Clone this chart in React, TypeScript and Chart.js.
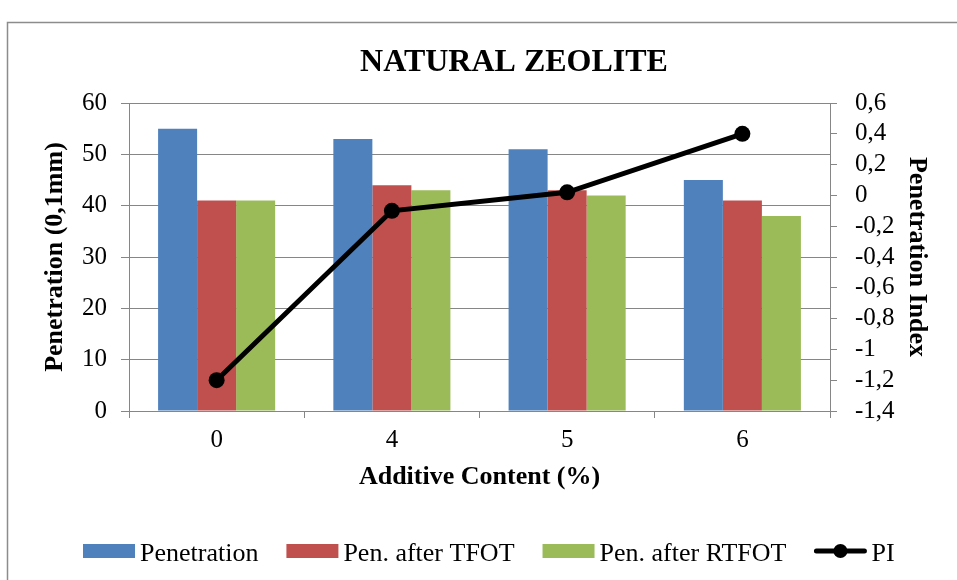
import React, { useEffect, useRef } from "react";
import { Chart, registerables } from "chart.js";

Chart.register(...registerables);

// ---- data ----
const categories = ["0", "4", "5", "6"];
const penetration = [55, 53, 51, 45];
const penAfterTFOT = [41, 44, 43, 41];
const penAfterRTFOT = [41, 43, 42, 38];
const piValues = [-1.2, -0.1, 0.02, 0.4];
const seriesLabels = ["Penetration", "Pen. after TFOT", "Pen. after RTFOT", "PI"];
const leftAxisRange = [0, 60, 10];
const rightAxisRange = [-1.4, 0.6, 0.2];
const chartTitle = "NATURAL ZEOLITE";
const xTitle = "Additive Content (%)";
const yTitle = "Penetration (0,1mm)";
const y1Title = "Penetration Index";

// ---- styles ----
const FONT = '"Liberation Serif", "Times New Roman", serif';
const GRID = "#868686";
const COLORS = ["#4F81BD", "#C0504D", "#9BBB59", "#000000"];

const decorPlugin = {
  id: "decor",
  beforeDraw(chart: any) {
    const ctx = chart.ctx;
    ctx.save();
    ctx.fillStyle = "#ffffff";
    ctx.fillRect(0, 0, chart.width, chart.height);
    ctx.strokeStyle = "#8c8c8c";
    ctx.lineWidth = 1.5;
    ctx.beginPath();
    ctx.moveTo(7.5, chart.height);
    ctx.lineTo(7.5, 22.5);
    ctx.lineTo(chart.width, 22.5);
    ctx.stroke();
    ctx.restore();
  },
  afterDraw(chart: any) {
    const ctx = chart.ctx;
    ctx.save();
    // title
    ctx.fillStyle = "#000";
    ctx.font = `bold 32px ${FONT}`;
    ctx.textAlign = "center";
    ctx.textBaseline = "alphabetic";
    ctx.fillText(chartTitle, 514, 71);

    // legend
    ctx.font = `26px ${FONT}`;
    ctx.textAlign = "left";
    let x = 83;
    const baseline = 561;
    const boxTop = 544;
    chart.data.datasets.slice().sort((a: any, b: any) => a.legendIndex - b.legendIndex).forEach((ds: any) => {
      if (ds.type === "line") {
        ctx.strokeStyle = ds.borderColor;
        ctx.lineWidth = 5;
        ctx.lineCap = "round";
        ctx.beginPath();
        ctx.moveTo(x + 2, 551);
        ctx.lineTo(x + 50, 551);
        ctx.stroke();
        ctx.fillStyle = ds.borderColor;
        ctx.beginPath();
        ctx.arc(x + 26, 551, 7, 0, Math.PI * 2);
        ctx.fill();
      } else {
        ctx.fillStyle = ds.backgroundColor;
        ctx.fillRect(x, boxTop, 52, 14);
      }
      x += 52 + 5;
      ctx.fillStyle = "#000";
      ctx.fillText(ds.label, x, baseline);
      x += ctx.measureText(ds.label).width + 28;
    });
    ctx.restore();
  },
};

export default function App() {
  const canvasRef = useRef<HTMLCanvasElement | null>(null);

  useEffect(() => {
    const canvas = canvasRef.current;
    if (!canvas) return;
    const tickFont = { family: FONT, size: 25 };
    const titleFont = { family: FONT, size: 26, weight: "bold" as const };

    const chart = new Chart(canvas, {
      type: "bar",
      data: {
        labels: categories,
        datasets: [
          {
            type: "line" as const,
            label: seriesLabels[3],
            data: piValues,
            yAxisID: "y1",
            borderColor: COLORS[3],
            backgroundColor: COLORS[3],
            borderWidth: 5,
            pointRadius: 8,
            pointBackgroundColor: COLORS[3],
            pointBorderWidth: 0,
            tension: 0,
            order: 0,
            legendIndex: 3,
          } as any,
          {
            type: "bar" as const,
            label: seriesLabels[0],
            data: penetration,
            yAxisID: "y",
            backgroundColor: COLORS[0],
            borderWidth: 0,
            barPercentage: 1,
            categoryPercentage: 0.668,
            order: 1,
            legendIndex: 0,
          } as any,
          {
            type: "bar" as const,
            label: seriesLabels[1],
            data: penAfterTFOT,
            yAxisID: "y",
            backgroundColor: COLORS[1],
            borderWidth: 0,
            barPercentage: 1,
            categoryPercentage: 0.668,
            order: 1,
            legendIndex: 1,
          } as any,
          {
            type: "bar" as const,
            label: seriesLabels[2],
            data: penAfterRTFOT,
            yAxisID: "y",
            backgroundColor: COLORS[2],
            borderWidth: 0,
            barPercentage: 1,
            categoryPercentage: 0.668,
            order: 1,
            legendIndex: 2,
          } as any,
        ],
      },
      options: {
        responsive: false,
        animation: false,
        devicePixelRatio: 1,
        layout: { padding: { top: 103, left: 0, right: 0, bottom: 0 } },
        plugins: {
          legend: { display: false },
          title: { display: false },
          tooltip: { enabled: false },
        },
        scales: {
          x: {
            type: "category",
            offset: true,
            grid: {
              offset: true,
              drawOnChartArea: false,
              drawTicks: true,
              tickLength: 7,
              color: GRID,
            },
            border: { color: GRID },
            ticks: { font: tickFont, color: "#000", padding: 7, maxRotation: 0, autoSkip: false },
            title: {
              display: true,
              text: xTitle,
              font: titleFont,
              color: "#000",
              padding: { top: 0, bottom: 87 },
            },
            afterFit: (s: any) => {
              s.height = 169;
            },
          },
          y: {
            type: "linear",
            position: "left",
            min: leftAxisRange[0],
            max: leftAxisRange[1],
            ticks: { stepSize: leftAxisRange[2], font: tickFont, color: "#000", padding: 14, autoSkip: false },
            grid: { color: GRID, tickLength: 8 },
            border: { color: GRID },
            title: {
              display: true,
              text: yTitle,
              font: titleFont,
              color: "#000",
              padding: { top: 40, bottom: 0 },
            },
            afterFit: (s: any) => {
              s.width = 129;
            },
          },
          y1: {
            type: "linear",
            position: "right",
            min: rightAxisRange[0],
            max: rightAxisRange[1],
            ticks: {
              stepSize: rightAxisRange[2],
              font: tickFont,
              color: "#000",
              padding: 18,
              autoSkip: false,
              callback: (v: any) => {
                const r = Math.round(Number(v) * 10) / 10;
                return String(r === 0 ? 0 : r).replace(".", ",");
              },
            },
            grid: { drawOnChartArea: false, color: GRID, tickLength: 7 },
            border: { color: GRID },
            title: {
              display: true,
              text: y1Title,
              font: titleFont,
              color: "#000",
              padding: { top: 25, bottom: 0 },
            },
            afterFit: (s: any) => {
              s.width = 127;
            },
          },
        },
      } as any,
      plugins: [decorPlugin],
    });

    return () => {
      chart.destroy();
    };
  }, []);

  return (
    <div style={{ position: "absolute", left: 0, top: 0, width: 957, height: 580 }}>
      <canvas ref={canvasRef} width={957} height={580} style={{ display: "block", width: 957, height: 580 }} />
    </div>
  );
}
